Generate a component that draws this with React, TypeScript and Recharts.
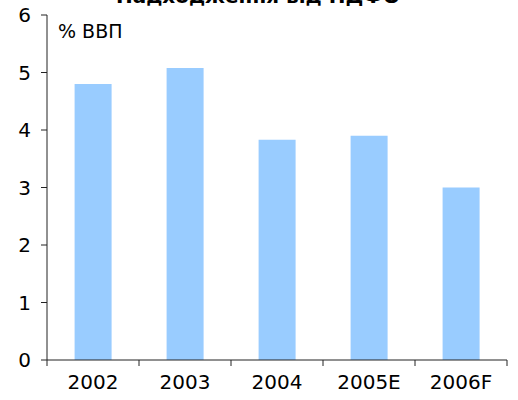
import { BarChart, Bar, XAxis, YAxis } from "recharts";

const years = ["2002", "2003", "2004", "2005E", "2006F"];
const pitDues = [4.8, 5.08, 3.83, 3.9, 3.0];
const yTicks = [0, 1, 2, 3, 4, 5, 6];

const data = years.map((year, i) => ({ year, value: pitDues[i] }));

const W = 518;
const H = 400;
const M = { top: 15, right: 11, left: 0, bottom: 0 };
const Y_W = 47;
const TICK = 6;
const GAP = 9;
const band = (W - M.left - M.right - Y_W) / years.length;
const FONT = "'DejaVu Sans', Verdana, sans-serif";

// category ticks sit on the boundaries between bars, so draw them ourselves
const YearTick = ({ x, y, payload, index }: any) => {
  const axisY = y - TICK - GAP;
  const left = x - band / 2;
  return (
    <g>
      <line x1={left} y1={axisY} x2={left} y2={axisY + TICK} stroke="#222" />
      {index === years.length - 1 && (
        <line x1={left + band} y1={axisY} x2={left + band} y2={axisY + TICK} stroke="#222" />
      )}
      <text x={x} y={y} dy="0.71em" textAnchor="middle" fontSize={20} fill="#000" fontFamily={FONT}>
        {payload.value}
      </text>
    </g>
  );
};

export default function App() {
  return (
    <div style={{ position: "absolute", left: 0, top: 0, width: W, height: H, background: "#fff" }}>
      <BarChart width={W} height={H} data={data} margin={M} barCategoryGap="30%">
        <XAxis
          dataKey="year"
          height={40}
          axisLine={{ stroke: "#222" }}
          tickLine={false}
          tickSize={TICK}
          tickMargin={GAP}
          interval={0}
          tick={<YearTick />}
        />
        <YAxis
          width={Y_W}
          domain={[0, 6]}
          ticks={yTicks}
          axisLine={{ stroke: "#222" }}
          tickLine={{ stroke: "#222" }}
          tickSize={6}
          tickMargin={10}
          tick={{ fontSize: 20, fill: "#000", fontFamily: FONT }}
        />
        <Bar dataKey="value" fill="#99CCFF" isAnimationActive={false} />
      </BarChart>
      <svg width={W} height={50} style={{ position: "absolute", left: 0, top: 0, pointerEvents: "none" }}>
        <text x={258} y={3} textAnchor="middle" fontSize={20} fontWeight="bold" fill="#000" fontFamily={FONT}>
          Надходження від ПДФО
        </text>
        <text x={58} y={38} fontSize={19} fill="#000" fontFamily={FONT}>
          % ВВП
        </text>
      </svg>
    </div>
  );
}
